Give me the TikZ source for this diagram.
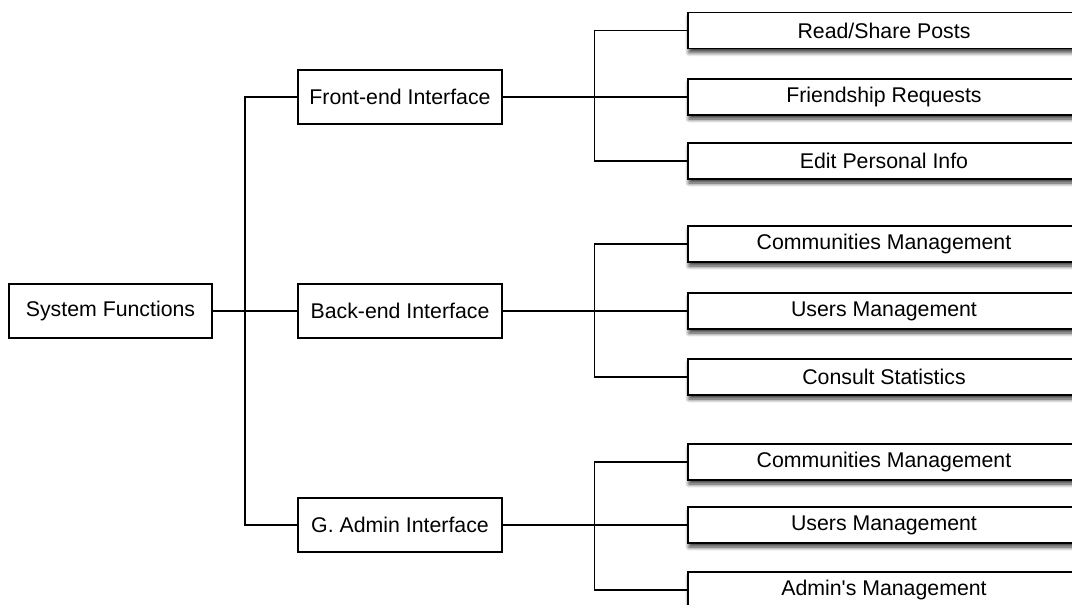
\documentclass[tikz,border=0pt]{standalone}
\usepackage{fontspec}
\setmainfont{Liberation Sans}
\usetikzlibrary{shadows.blur}
\begin{document}
\begin{tikzpicture}[x=1pt,y=-1pt,
  box/.style={draw=black, fill=white, line width=1.3pt, rectangle,
    inner sep=0pt, font=\fontsize{21.3}{24}\selectfont},
  rootbox/.style={box, minimum width=203pt, minimum height=54pt},
  midbox/.style={box, minimum width=204pt, minimum height=54pt},
  leafbox/.style={box, minimum width=392pt, minimum height=36pt,
    blur shadow={shadow xshift=1pt, shadow yshift=-4pt, shadow opacity=80,
      shadow blur radius=4pt, shadow blur steps=8}},
  link/.style={draw=black, line width=1.3pt}]
\useasboundingbox (0,0) rectangle (1072,605);

% root and second level
\node[rootbox] (sys) at (110.5,311) {System Functions};
\node[midbox] (fe) at (400,97) {Front-end Interface};
\node[midbox] (be) at (400,311) {Back-end Interface};
\node[midbox] (ga) at (400,525) {G. Admin Interface};

% leaves
\node[leafbox] (f1) at (884,30.5) {Read/Share Posts};
\node[leafbox] (f2) at (884,97) {Friendship Requests};
\node[leafbox] (f3) at (884,161) {Edit Personal Info};
\node[leafbox] (b1) at (884,244) {Communities Management};
\node[leafbox] (b2) at (884,311) {Users Management};
\node[leafbox] (b3) at (884,377) {Consult Statistics};
\node[leafbox] (g1) at (884,462) {Communities Management};
\node[leafbox] (g2) at (884,525) {Users Management};
\node[leafbox] (g3) at (884,590) {Admin\textquotesingle s Management};

% trunk from root to the interfaces
\coordinate (tr) at (245,311);
\draw[link] (sys.east) -- (tr);
\draw[link] (fe.west) -| (tr) |- (ga.west);
\draw[link] (tr) -- (be.west);

% brackets to the leaves
\foreach \p/\a/\b/\c in {fe/f1/f2/f3, be/b1/b2/b3, ga/g1/g2/g3}{
  \draw[link] (\p.east) -- (\b.west);
  \draw[link] (\a.west) -- ++(-93,0) coordinate (top) -- (top |- \c.west) -- (\c.west);
}
\end{tikzpicture}
\end{document}
